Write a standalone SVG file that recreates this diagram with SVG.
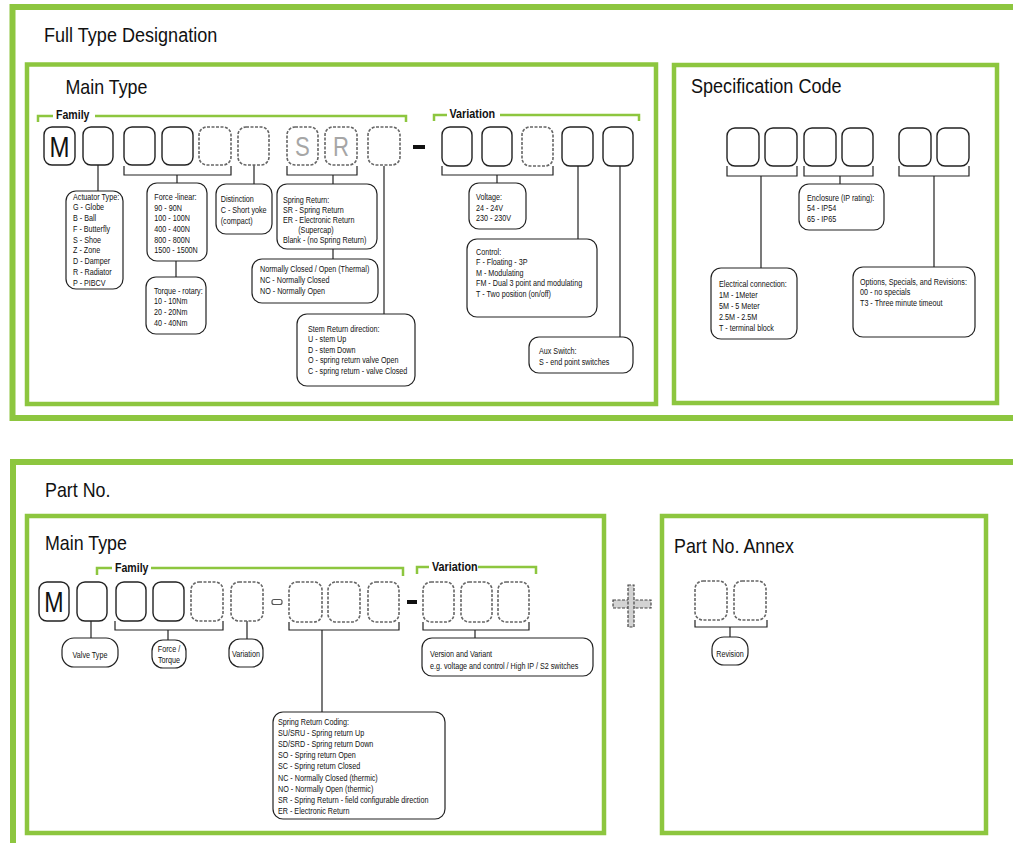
<svg xmlns="http://www.w3.org/2000/svg" width="1013" height="843" viewBox="0 0 1013 843">
<style>
.fo{fill:none;stroke:#8dc63f;stroke-width:6}
.fi{fill:none;stroke:#8dc63f;stroke-width:4.5}
.gb{fill:none;stroke:#8dc63f;stroke-width:2.5}
.s{fill:#fff;stroke:#222;stroke-width:1.4}
.sd{fill:#fff;stroke:#666;stroke-width:1.6;stroke-dasharray:3 1.5}
.l{fill:#fff;stroke:#222;stroke-width:1.2}
.c{fill:none;stroke:#222;stroke-width:1.2}
.ti{font-family:"Liberation Sans",Arial,sans-serif;font-size:21px;fill:#111}
.t{font-family:"Liberation Sans",Arial,sans-serif;font-size:9px;fill:#111}
.b{font-family:"Liberation Sans",Arial,sans-serif;font-size:12px;font-weight:bold;fill:#111}
.big{font-family:"Liberation Sans",Arial,sans-serif;font-weight:normal;fill:#111;text-anchor:middle}
.gr{font-family:"Liberation Sans",Arial,sans-serif;fill:#a6a6a6;text-anchor:middle}
.m{text-anchor:middle}
</style>
<rect width="1013" height="843" fill="#fff"/>

<!-- Frames -->
<g id="frames">
<rect class="fo" x="12.5" y="7" width="1030" height="411"/>
<rect class="fi" x="27" y="64.5" width="629" height="339.5"/>
<rect class="fi" x="674" y="65" width="323" height="338"/>
<rect class="fo" x="13" y="462" width="1030" height="420"/>
<rect class="fi" x="27" y="516" width="577" height="317"/>
<rect class="fi" x="662" y="516" width="324" height="317"/>
</g>

<g id="titles">
<text class="ti" transform="translate(44,41.7) scale(0.86,1)">Full Type Designation</text>
<text class="ti" transform="translate(65.5,94) scale(0.85,1)">Main Type</text>
<text class="ti" transform="translate(691,93.3) scale(0.86,1)">Specification Code</text>
<text class="ti" transform="translate(45,496.7) scale(0.85,1)">Part No.</text>
<text class="ti" transform="translate(45,550) scale(0.85,1)">Main Type</text>
<text class="ti" transform="translate(674,553) scale(0.85,1)">Part No. Annex</text>
</g>

<!-- Green brackets -->
<g id="groups">
<path class="gb" d="M38,122 V116 H53 M95,116 H406 V122"/>
<text class="b" transform="translate(56,118.5) scale(0.88,1)">Family</text>
<path class="gb" d="M434,121 V115 H447 M500,115 H639 V121"/>
<text class="b" transform="translate(449.5,118) scale(0.9,1)">Variation</text>
<path class="gb" d="M97,575 V568 H112 M151,568 H403 V576"/>
<text class="b" transform="translate(115,572) scale(0.88,1)">Family</text>
<path class="gb" d="M417,574 V567 H429 M478,567 H536 V574"/>
<text class="b" transform="translate(432,571) scale(0.9,1)">Variation</text>
</g>

<!-- Connectors -->
<g id="connectors">
<path class="c" d="M98,165 V191"/>
<path class="c" d="M124,166 V175 H231 V166 M177,175 V183"/>
<path class="c" d="M176,261 V277"/>
<path class="c" d="M254,165 V184"/>
<path class="c" d="M287,166 V175 H357 V166 M333,175 V184"/>
<path class="c" d="M333,249 V259"/>
<path class="c" d="M384,166 V314"/>
<path class="c" d="M442,166 V175 H553 V166 M497,175 V183"/>
<path class="c" d="M578,166 V239"/>
<path class="c" d="M620,166 V337"/>
<path class="c" d="M727,166 V176 H797 V166 M761,176 V268"/>
<path class="c" d="M804,166 V176 H873 V166 M840,176 V184"/>
<path class="c" d="M899,166 V176 H969 V166 M934,176 V267"/>
<path class="c" d="M91,620 V638"/>
<path class="c" d="M115,621 V630 H223 V621 M168,630 V640"/>
<path class="c" d="M247,621 V639"/>
<path class="c" d="M289,622 V630 H399 V622 M322,630 V712"/>
<path class="c" d="M423,622 V630 H529 V622 M475,630 V638"/>
<path class="c" d="M695,620 V627 H767 V620 M730,627 V637"/>
</g>

<!-- Top code slots -->
<g id="top-slots">
<g id="slot-M"><rect class="s" x="44" y="127" width="31" height="38" rx="8"/><text class="big" font-size="30" transform="translate(59.5,157) scale(0.8,1)">M</text></g>
<rect id="slot-2" class="s" x="83" y="127" width="30" height="38" rx="8"/>
<rect id="slot-3" class="s" x="124" y="127" width="31" height="38" rx="8"/>
<rect id="slot-4" class="s" x="162" y="127" width="31" height="38" rx="8"/>
<rect id="slot-5" class="sd" x="199" y="127" width="32" height="38" rx="8"/>
<rect id="slot-6" class="sd" x="238" y="127" width="31" height="38" rx="8"/>
<g id="slot-S"><rect class="sd" x="287" y="127" width="31" height="38" rx="8"/><text class="gr" font-size="27" transform="translate(302.5,156) scale(0.82,1)">S</text></g>
<g id="slot-R"><rect class="sd" x="325" y="127" width="32" height="38" rx="8"/><text class="gr" font-size="27" transform="translate(341,156) scale(0.82,1)">R</text></g>
<rect id="slot-9" class="sd" x="368" y="127" width="32" height="38" rx="8"/>
<rect id="dash-1" x="413" y="145" width="12" height="4" fill="#111"/>
<rect id="slot-v1" class="s" x="442" y="127" width="30" height="39" rx="8"/>
<rect id="slot-v2" class="s" x="482" y="127" width="30" height="39" rx="8"/>
<rect id="slot-v3" class="sd" x="522" y="127" width="31" height="39" rx="8"/>
<rect id="slot-v4" class="s" x="562" y="127" width="31" height="39" rx="8"/>
<rect id="slot-v5" class="s" x="603" y="127" width="30" height="39" rx="8"/>
<rect id="spec-1" class="s" x="727" y="128" width="32" height="38" rx="8"/>
<rect id="spec-2" class="s" x="765" y="128" width="32" height="38" rx="8"/>
<rect id="spec-3" class="s" x="804" y="128" width="32" height="38" rx="8"/>
<rect id="spec-4" class="s" x="842" y="128" width="31" height="38" rx="8"/>
<rect id="spec-5" class="s" x="899" y="128" width="32" height="38" rx="8"/>
<rect id="spec-6" class="s" x="937" y="128" width="32" height="38" rx="8"/>
</g>

<!-- Top label boxes -->
<g id="actuator-type">
<rect class="l" x="66" y="191" width="57" height="98" rx="10"/>
<text class="t" transform="translate(73,199.7) scale(0.8,1)"><tspan x="0" y="0">Actuator Type:</tspan><tspan x="0" y="10.75">G - Globe</tspan><tspan x="0" y="21.5">B - Ball</tspan><tspan x="0" y="32.25">F - Butterfly</tspan><tspan x="0" y="43">S - Shoe</tspan><tspan x="0" y="53.75">Z - Zone</tspan><tspan x="0" y="64.5">D - Damper</tspan><tspan x="0" y="75.25">R - Radiator</tspan><tspan x="0" y="86">P - PIBCV</tspan></text>
</g>
<g id="force-linear">
<rect class="l" x="147" y="183" width="60" height="78" rx="10"/>
<text class="t" transform="translate(154.3,200) scale(0.8,1)"><tspan x="0" y="0">Force -linear:</tspan><tspan x="0" y="10.7">90 - 90N</tspan><tspan x="0" y="21.4">100 - 100N</tspan><tspan x="0" y="32.1">400 - 400N</tspan><tspan x="0" y="42.8">800 - 800N</tspan><tspan x="0" y="53.5">1500 - 1500N</tspan></text>
</g>
<g id="torque-rotary">
<rect class="l" x="146" y="277" width="60" height="57" rx="10"/>
<text class="t" transform="translate(154,293.7) scale(0.8,1)"><tspan x="0" y="0">Torque - rotary:</tspan><tspan x="0" y="10.7">10 - 10Nm</tspan><tspan x="0" y="21.4">20 - 20Nm</tspan><tspan x="0" y="32.1">40 - 40Nm</tspan></text>
</g>
<g id="distinction">
<rect class="l" x="216" y="184" width="56" height="50" rx="10"/>
<text class="t" transform="translate(220.7,202) scale(0.8,1)"><tspan x="0" y="0">Distinction</tspan><tspan x="0" y="11">C - Short yoke</tspan><tspan x="0" y="22">(compact)</tspan></text>
</g>
<g id="spring-return">
<rect class="l" x="277" y="184" width="100" height="65" rx="10"/>
<text class="t" transform="translate(283,203) scale(0.8,1)"><tspan x="0" y="0">Spring Return:</tspan><tspan x="0" y="10">SR - Spring Return</tspan><tspan x="0" y="20">ER - Electronic Return</tspan><tspan x="19" y="30">(Supercap)</tspan><tspan x="0" y="40">Blank - (no Spring Return)</tspan></text>
</g>
<g id="normally-closed">
<rect class="l" x="252" y="259" width="126" height="44" rx="10"/>
<text class="t" transform="translate(260,272) scale(0.8,1)"><tspan x="0" y="0">Normally Closed / Open (Thermal)</tspan><tspan x="0" y="10.8">NC - Normally Closed</tspan><tspan x="0" y="21.6">NO - Normally Open</tspan></text>
</g>
<g id="stem-return">
<rect class="l" x="297" y="314" width="118" height="72" rx="10"/>
<text class="t" transform="translate(308,332) scale(0.8,1)"><tspan x="0" y="0">Stem Return direction:</tspan><tspan x="0" y="10.5">U - stem Up</tspan><tspan x="0" y="21">D - stem Down</tspan><tspan x="0" y="31.5">O - spring return valve Open</tspan><tspan x="0" y="42">C - spring return - valve Closed</tspan></text>
</g>
<g id="voltage">
<rect class="l" x="469" y="183" width="57" height="46" rx="10"/>
<text class="t" transform="translate(476,200) scale(0.8,1)"><tspan x="0" y="0">Voltage:</tspan><tspan x="0" y="10.7">24 - 24V</tspan><tspan x="0" y="21.4">230 - 230V</tspan></text>
</g>
<g id="control">
<rect class="l" x="467" y="239" width="130" height="78" rx="10"/>
<text class="t" transform="translate(476,255) scale(0.8,1)"><tspan x="0" y="0">Control:</tspan><tspan x="0" y="10.5">F - Floating - 3P</tspan><tspan x="0" y="21">M - Modulating</tspan><tspan x="0" y="31.5">FM - Dual 3 point and modulating</tspan><tspan x="0" y="42">T - Two position (on/off)</tspan></text>
</g>
<g id="aux-switch">
<rect class="l" x="529" y="337" width="104" height="36" rx="10"/>
<text class="t" transform="translate(539,354) scale(0.8,1)"><tspan x="0" y="0">Aux Switch:</tspan><tspan x="0" y="11">S - end point switches</tspan></text>
</g>
<g id="enclosure">
<rect class="l" x="799" y="184" width="85" height="46" rx="10"/>
<text class="t" transform="translate(807,201) scale(0.8,1)"><tspan x="0" y="0">Enclosure (IP rating):</tspan><tspan x="0" y="10.5">54 - IP54</tspan><tspan x="0" y="21">65 - IP65</tspan></text>
</g>
<g id="electrical">
<rect class="l" x="711" y="268" width="86" height="71" rx="10"/>
<text class="t" transform="translate(719,287) scale(0.8,1)"><tspan x="0" y="0">Electrical connection:</tspan><tspan x="0" y="11">1M - 1Meter</tspan><tspan x="0" y="22">5M - 5 Meter</tspan><tspan x="0" y="33">2.5M - 2.5M</tspan><tspan x="0" y="44">T - terminal block</tspan></text>
</g>
<g id="options">
<rect class="l" x="853" y="267" width="122" height="70" rx="10"/>
<text class="t" transform="translate(860,285) scale(0.8,1)"><tspan x="0" y="0">Options, Specials, and Revisions:</tspan><tspan x="0" y="10.3">00 - no specials</tspan><tspan x="0" y="20.6">T3 - Three minute timeout</tspan></text>
</g>

<!-- Bottom slots -->
<g id="bottom-slots">
<g id="pslot-M"><rect class="s" x="39" y="582" width="30" height="39" rx="8"/><text class="big" font-size="29" transform="translate(54,612) scale(0.8,1)">M</text></g>
<rect id="pslot-2" class="s" x="77" y="582" width="30" height="39" rx="8"/>
<rect id="pslot-3" class="s" x="116" y="582" width="30" height="39" rx="8"/>
<rect id="pslot-4" class="s" x="153" y="582" width="31" height="39" rx="8"/>
<rect id="pslot-5" class="sd" x="191" y="582" width="32" height="39" rx="8"/>
<rect id="pslot-6" class="sd" x="231" y="582" width="32" height="39" rx="8"/>
<rect id="psep" x="272" y="599.5" width="10" height="5" rx="2" fill="#fff" stroke="#555" stroke-width="1.2"/>
<rect id="pslot-7" class="sd" x="289" y="582" width="33" height="40" rx="8"/>
<rect id="pslot-8" class="sd" x="328" y="582" width="32" height="40" rx="8"/>
<rect id="pslot-9" class="sd" x="368" y="582" width="31" height="40" rx="8"/>
<rect id="pdash" x="407" y="600" width="10" height="4" fill="#111"/>
<rect id="pslot-10" class="sd" x="423" y="582" width="31" height="40" rx="8"/>
<rect id="pslot-11" class="sd" x="461" y="582" width="31" height="40" rx="8"/>
<rect id="pslot-12" class="sd" x="498" y="582" width="31" height="40" rx="8"/>
<g id="plus">
<rect x="613" y="600" width="38" height="8" fill="#d3d3d3" stroke="#444" stroke-width="1.2" stroke-dasharray="3 1.5"/>
<rect x="628" y="585" width="6" height="42" fill="#d3d3d3" stroke="#444" stroke-width="1.2" stroke-dasharray="3 1.5"/>
</g>
<rect id="aslot-1" class="sd" x="695" y="581" width="32" height="39" rx="8"/>
<rect id="aslot-2" class="sd" x="734" y="581" width="32" height="39" rx="8"/>
</g>

<!-- Bottom label boxes -->
<g id="valve-type">
<rect class="l" x="62" y="638" width="56" height="29" rx="12"/>
<text class="t m" transform="translate(90,658) scale(0.8,1)">Valve Type</text>
</g>
<g id="force-torque">
<rect class="l" x="152" y="640" width="34" height="28" rx="11"/>
<text class="t m" transform="translate(169,652) scale(0.8,1)"><tspan x="0" y="0">Force /</tspan><tspan x="0" y="11">Torque</tspan></text>
</g>
<g id="variation-lbl">
<rect class="l" x="229" y="639" width="34" height="28" rx="11"/>
<text class="t m" transform="translate(246,657) scale(0.8,1)">Variation</text>
</g>
<g id="version">
<rect class="l" x="422" y="638" width="171" height="38" rx="10"/>
<text class="t" transform="translate(430,657) scale(0.8,1)"><tspan x="0" y="0">Version and Variant</tspan><tspan x="0" y="12.5">e.g. voltage and control / High IP / S2 switches</tspan></text>
</g>
<g id="spring-coding">
<rect class="l" x="273" y="712" width="172" height="107" rx="10"/>
<text class="t" transform="translate(278,724.6) scale(0.8,1)"><tspan x="0" y="0">Spring Return Coding:</tspan><tspan x="0" y="11.2">SU/SRU - Spring return Up</tspan><tspan x="0" y="22.4">SD/SRD - Spring return Down</tspan><tspan x="0" y="33.6">SO - Spring return Open</tspan><tspan x="0" y="44.8">SC - Spring return Closed</tspan><tspan x="0" y="56">NC - Normally Closed (thermic)</tspan><tspan x="0" y="67.2">NO - Normally Open (thermic)</tspan><tspan x="0" y="78.4">SR - Spring Return - field configurable direction</tspan><tspan x="0" y="89.6">ER - Electronic Return</tspan></text>
</g>
<g id="revision">
<rect class="l" x="712" y="637" width="36" height="28" rx="12"/>
<text class="t m" transform="translate(730,657) scale(0.8,1)">Revision</text>
</g>
</svg>
